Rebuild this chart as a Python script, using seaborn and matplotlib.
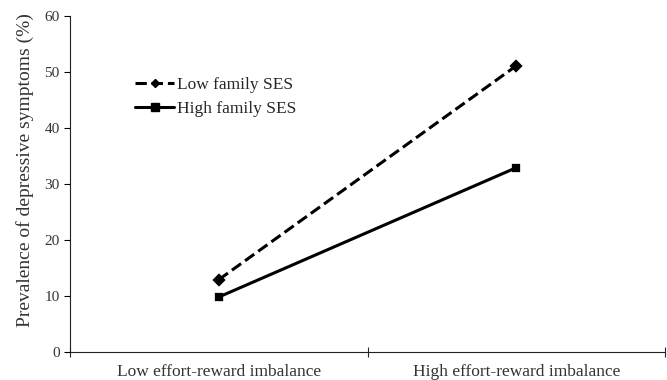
import pandas as pd
import seaborn as sns
import matplotlib.pyplot as plt
from matplotlib.lines import Line2D

# data
categories = ["Low effort-reward imbalance", "High effort-reward imbalance"]
low_ses = [12.9, 51.1]
high_ses = [9.8, 32.9]
series = ["Low family SES", "High family SES"]

df = pd.DataFrame({
    "group": categories * 2,
    "value": low_ses + high_ses,
    "ses": [series[0]] * 2 + [series[1]] * 2,
})

sns.set_style("ticks")
plt.rcParams["font.family"] = ["Liberation Serif", "DejaVu Serif"]

fig = plt.figure(figsize=(6.67, 3.8), dpi=100)
ax = fig.add_axes([0.105, 0.074, 0.892, 0.884])

sns.pointplot(data=df, x="group", y="value", hue="ses", order=categories,
              hue_order=series, palette=["black", "black"],
              markers=["D", "s"], linestyles=["--", "-"],
              markersize=5, linewidth=2.2, ax=ax, legend=False)

ax.set_xlim(-0.5, 1.5)
ax.set_ylim(0, 60)
ax.set_yticks(range(0, 61, 10))
ax.set_xlabel("")
ax.set_ylabel("Prevalence of depressive symptoms (%)", fontsize=14, color="#333333")
ax.yaxis.set_label_coords(-0.061, 0.54)
ax.tick_params(axis="y", labelsize=11, length=4, width=0.8, colors="black", labelcolor="#333333")
ax.tick_params(axis="x", which="major", length=0, labelsize=12.5, pad=8.5, labelcolor="#333333")
ax.set_xticks([-0.5, 0.5, 1.5], minor=True)
ax.tick_params(axis="x", which="minor", direction="inout", length=7, width=0.8)
for s in ["top", "right"]:
    ax.spines[s].set_visible(False)
for s in ["left", "bottom"]:
    ax.spines[s].set_linewidth(0.8)
    ax.spines[s].set_color("#222222")

handles = [
    Line2D([], [], color="black", linestyle="--", marker="D", markersize=4, linewidth=2.2),
    Line2D([], [], color="black", linestyle="-", marker="s", markersize=5.5, linewidth=2.2),
]
ax.legend(handles, series, loc="upper left", bbox_to_anchor=(0.19, 0.82),
          bbox_transform=fig.transFigure, frameon=False, fontsize=12.5,
          handlelength=2.2, handletextpad=0.2, labelspacing=0.45, borderpad=0)

fig.savefig("out.png", dpi=100)
